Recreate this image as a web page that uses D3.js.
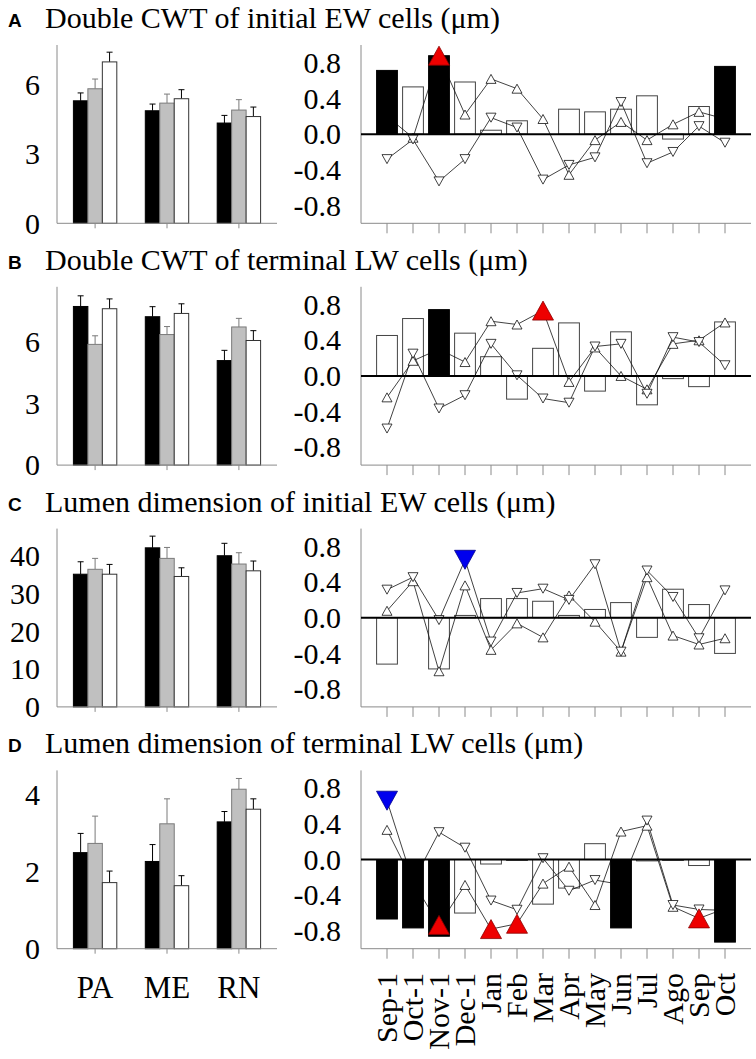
<!DOCTYPE html>
<html><head><meta charset="utf-8">
<script src="https://cdn.jsdelivr.net/npm/d3@7"></script>
<style>body{margin:0;background:#fff} svg{display:block}</style>
</head><body>
<script>
// ---------- data ----------
const months = ["Sep-1","Oct-1","Nov-1","Dec-1","Jan","Feb","Mar","Apr","May","Jun","Jul","Ago","Sep","Oct"];
const sites = ["PA","ME","RN"];
const letters = ["A","B","C","D"];
const titles = [
  "Double CWT of initial EW cells (\u03bcm)",
  "Double CWT of terminal LW cells (\u03bcm)",
  "Lumen dimension of initial EW cells (\u03bcm)",
  "Lumen dimension of terminal LW cells (\u03bcm)"
];
// left panels: means and error (upper) for black, gray, white series per site
const A_black = [5.29, 4.86, 4.33], A_blackErr = [0.34, 0.29, 0.33];
const A_gray  = [5.81, 5.19, 4.89], A_grayErr  = [0.42, 0.39, 0.45];
const A_white = [6.97, 5.38, 4.61], A_whiteErr = [0.42, 0.39, 0.41];
const B_black = [7.74, 7.24, 5.10], B_blackErr = [0.52, 0.49, 0.50];
const B_gray  = [5.89, 6.37, 6.74], B_grayErr  = [0.42, 0.39, 0.42];
const B_white = [7.63, 7.40, 6.08], B_whiteErr = [0.48, 0.47, 0.48];
const C_black = [35.2, 42.2, 40.1], C_blackErr = [3.3, 3.1, 3.3];
const C_gray  = [36.5, 39.4, 37.9], C_grayErr  = [2.9, 2.9, 3.0];
const C_white = [35.2, 34.6, 36.1], C_whiteErr = [2.6, 2.3, 2.6];
const D_black = [2.50, 2.27, 3.30], D_blackErr = [0.50, 0.44, 0.27];
const D_gray  = [2.74, 3.25, 4.15], D_grayErr  = [0.71, 0.65, 0.28];
const D_white = [1.72, 1.64, 3.63], D_whiteErr = [0.30, 0.26, 0.27];
const leftMax = [7.7, 8.7, 47.3, 4.64];
const leftTicks = [[0,3,6],[0,3,6],[0,10,20,30,40],[0,2,4]];
// right panels: correlation bars and two triangle series
const A_bars = [0.715,0.53,0.88,0.585,0.044,0.15,0.0,0.28,0.25,0.28,0.43,-0.055,0.31,0.76];
const A_up   = [0.20,-0.04,0.88,0.22,0.62,0.51,0.17,-0.456,-0.067,0.137,-0.067,0.11,0.25,0.17];
const A_down = [-0.28,-0.06,-0.53,-0.28,0.185,0.074,-0.51,-0.345,-0.26,0.36,-0.326,-0.2,0.09,-0.096];
const B_bars = [0.454,0.644,0.744,0.48,0.216,-0.26,0.31,0.595,-0.17,0.495,-0.324,-0.03,-0.12,0.606];
const B_up   = [-0.24,0.17,0.30,0.156,0.614,0.577,0.733,-0.067,0.32,0.0,-0.15,0.36,0.40,0.60];
const B_down = [-0.59,0.25,-0.365,-0.216,0.36,0.007,-0.253,-0.30,0.33,0.36,-0.20,0.435,0.38,0.12];
const C_bars = [-0.52,0.0,-0.574,0.026,0.215,0.215,0.185,0.026,0.093,0.17,-0.22,0.32,0.148,-0.40];
const C_up   = [0.078,0.41,-0.60,0.363,-0.36,-0.063,-0.22,0.25,-0.044,-0.38,0.455,-0.20,-0.30,-0.23];
const C_down = [0.315,0.455,-0.026,0.65,-0.267,0.278,0.326,0.20,0.60,-0.38,0.53,0.233,-0.23,0.307];
const D_bars = [-0.667,-0.767,-0.86,-0.60,-0.05,-0.01,-0.50,-0.32,0.178,-0.767,-0.015,-0.01,-0.067,-0.926];
const D_up   = [0.333,-0.25,-0.733,-0.285,-0.78,-0.72,-0.27,-0.08,-0.51,0.314,0.38,-0.53,-0.66,-0.55];
const D_down = [0.66,-0.25,0.307,0.133,-0.46,-0.563,0.015,-0.35,-0.23,-0.28,0.437,-0.51,-0.56,-0.57];
// significance (indices)
const A_sigBar = [0,2,13], A_sigUp = [2], A_sigDown = [];
const B_sigBar = [2], B_sigUp = [6], B_sigDown = [];
const C_sigBar = [], C_sigUp = [], C_sigDown = [3];
const D_sigBar = [0,1,2,9,13], D_sigUp = [2,4,5,12], D_sigDown = [0];
const rightTicks = [-0.8,-0.4,0.0,0.4,0.8];

const panels = [
  {left:[[A_black,A_blackErr],[A_gray,A_grayErr],[A_white,A_whiteErr]], bars:A_bars, up:A_up, down:A_down, sb:A_sigBar, su:A_sigUp, sd:A_sigDown},
  {left:[[B_black,B_blackErr],[B_gray,B_grayErr],[B_white,B_whiteErr]], bars:B_bars, up:B_up, down:B_down, sb:B_sigBar, su:B_sigUp, sd:B_sigDown},
  {left:[[C_black,C_blackErr],[C_gray,C_grayErr],[C_white,C_whiteErr]], bars:C_bars, up:C_up, down:C_down, sb:C_sigBar, su:C_sigUp, sd:C_sigDown},
  {left:[[D_black,D_blackErr],[D_gray,D_grayErr],[D_white,D_whiteErr]], bars:D_bars, up:D_up, down:D_down, sb:D_sigBar, su:D_sigUp, sd:D_sigDown}
];

// ---------- drawing ----------
const W = 756, H = 1059;
const serif = "'Liberation Serif','Times New Roman',serif";
const svg = d3.select("body").append("svg").attr("width", W).attr("height", H);
const panelStep = 241.8;
const axisTop = 45, axisBot = 223.3;
const axisColor = "#8a8a8a";
const fills = ["#000000", "#c0c0c0", "#ffffff"];
const strokes = ["#000000", "#7a7a7a", "#333333"];
const errCol = ["#000000", "#7a7a7a", "#000000"];

const xl = d3.scalePoint().domain(sites).range([57, 277]).padding(0.53);
const xs = d3.scaleBand().domain([0,1,2]).range([-21.7, 21.7]);
const xr = d3.scalePoint().domain(months).range([361, 751]).padding(1);
const yr = d3.scaleLinear().domain([-1, 1]).range([axisBot, axisTop]);
const barW = xr.step() * 0.8;

function tri(up, w, h) {
  return up ? `M0,${-h/2}L${w/2},${h/2}L${-w/2},${h/2}Z` : `M0,${h/2}L${w/2},${-h/2}L${-w/2},${-h/2}Z`;
}

panels.forEach((p, i) => {
  const g = svg.append("g").attr("transform", `translate(0,${i * panelStep})`);
  // titles
  g.append("text").attr("x", 8).attr("y", 27).attr("font-family", "'Liberation Sans',Arial,sans-serif")
    .attr("font-weight", "bold").attr("font-size", 19).text(letters[i]);
  g.append("text").attr("x", 45).attr("y", 28).attr("font-family", serif).attr("font-size", 30).text(titles[i]);

  // ----- left panel -----
  const yl = d3.scaleLinear().domain([0, leftMax[i]]).range([axisBot, axisTop]);
  const L = g.append("g");
  p.left.forEach((ser, s) => {
    const [means, errs] = ser;
    sites.forEach((site, k) => {
      const cx = xl(site) + xs(s);
      const bw = xs.bandwidth();
      const top = yl(means[k] + errs[k]);
      L.append("line").attr("x1", cx + bw/2).attr("x2", cx + bw/2).attr("y1", yl(means[k])).attr("y2", top)
        .attr("stroke", errCol[s]).attr("stroke-width", 1);
      L.append("line").attr("x1", cx + bw/2 - 3).attr("x2", cx + bw/2 + 3).attr("y1", top).attr("y2", top)
        .attr("stroke", errCol[s]).attr("stroke-width", 1);
      L.append("rect").attr("x", cx).attr("width", bw).attr("y", yl(means[k])).attr("height", yl(0) - yl(means[k]))
        .attr("fill", fills[s]).attr("stroke", strokes[s]).attr("stroke-width", 1);
    });
  });
  L.append("line").attr("x1", 57).attr("x2", 57).attr("y1", axisTop).attr("y2", axisBot).attr("stroke", axisColor);
  L.append("line").attr("x1", 57).attr("x2", 277).attr("y1", axisBot).attr("y2", axisBot).attr("stroke", axisColor);
  sites.forEach(site => {
    L.append("line").attr("x1", xl(site)).attr("x2", xl(site)).attr("y1", axisBot).attr("y2", axisBot + 5).attr("stroke", axisColor);
  });
  leftTicks[i].forEach(t => {
    L.append("text").attr("x", 40).attr("y", yl(t)).attr("dy", "0.34em").attr("text-anchor", "end")
      .attr("font-family", serif).attr("font-size", 30).text(t);
  });

  // ----- right panel -----
  const R = g.append("g");
  months.forEach((m, k) => {
    if (p.sb.includes(k)) return;
    const v = p.bars[k];
    R.append("rect").attr("x", xr(m) - barW/2).attr("width", barW)
      .attr("y", Math.min(yr(v), yr(0))).attr("height", Math.abs(yr(v) - yr(0)))
      .attr("fill", "#fff").attr("stroke", "#444").attr("stroke-width", 1);
  });
  const line = d3.line().x((d, k) => xr(months[k])).y(d => yr(d));
  [p.up, p.down].forEach(series => {
    R.append("path").attr("d", line(series)).attr("fill", "none").attr("stroke", "#111").attr("stroke-width", 0.8);
  });
  [[p.up, true], [p.down, false]].forEach(([series, up]) => {
    series.forEach((v, k) => {
      R.append("path").attr("d", tri(up, 10, 9)).attr("transform", `translate(${xr(months[k])},${yr(v)})`)
        .attr("fill", "#fff").attr("stroke", "#111").attr("stroke-width", 0.8);
    });
  });
  p.sb.forEach(k => {
    const v = p.bars[k];
    R.append("rect").attr("x", xr(months[k]) - barW/2).attr("width", barW)
      .attr("y", Math.min(yr(v), yr(0))).attr("height", Math.abs(yr(v) - yr(0)))
      .attr("fill", "#000").attr("stroke", "#000").attr("stroke-width", 1);
  });
  R.append("line").attr("x1", 361).attr("x2", 361).attr("y1", axisTop).attr("y2", axisBot).attr("stroke", axisColor);
  R.append("line").attr("x1", 361).attr("x2", 751).attr("y1", axisBot).attr("y2", axisBot).attr("stroke", axisColor);
  months.forEach(m => {
    R.append("line").attr("x1", xr(m)).attr("x2", xr(m)).attr("y1", axisBot).attr("y2", axisBot + 10).attr("stroke", axisColor);
  });
  R.append("line").attr("x1", 361).attr("x2", 751).attr("y1", yr(0)).attr("y2", yr(0)).attr("stroke", "#000").attr("stroke-width", 2);
  rightTicks.forEach(t => {
    R.append("text").attr("x", 341).attr("y", yr(t)).attr("dy", "0.34em").attr("text-anchor", "end")
      .attr("font-family", serif).attr("font-size", 30).text(t === 0 ? "0.0" : (t < 0 ? "-" : "") + Math.abs(t).toFixed(1));
  });
  p.su.forEach(k => {
    R.append("path").attr("d", tri(true, 21, 19)).attr("transform", `translate(${xr(months[k])},${yr(p.up[k])})`)
      .attr("fill", "#ee0000").attr("stroke", "#8a0000").attr("stroke-width", 0.8);
  });
  p.sd.forEach(k => {
    R.append("path").attr("d", tri(false, 21, 19)).attr("transform", `translate(${xr(months[k])},${yr(p.down[k])})`)
      .attr("fill", "#0000ee").attr("stroke", "#00008a").attr("stroke-width", 0.8);
  });
});

// bottom labels
const by = 3 * panelStep;
sites.forEach(site => {
  svg.append("text").attr("x", xl(site)).attr("y", by + axisBot + 49).attr("text-anchor", "middle")
    .attr("font-family", serif).attr("font-size", 31).text(site);
});
months.forEach(m => {
  svg.append("text").attr("transform", `translate(${xr(m)},${973}) rotate(-90)`)
    .attr("text-anchor", "end").attr("dy", "0.33em")
    .attr("font-family", serif).attr("font-size", 30).text(m);
});
</script>
</body></html>
